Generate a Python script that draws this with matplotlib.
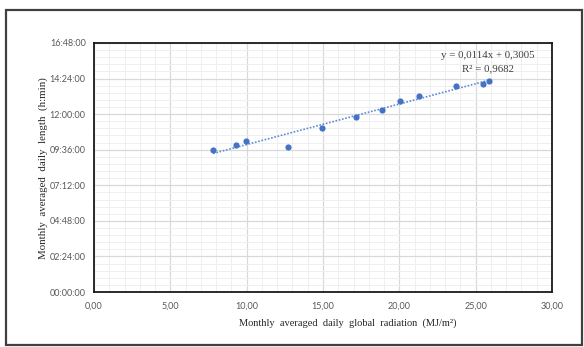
import matplotlib
matplotlib.use("Agg")
import matplotlib.pyplot as plt
from matplotlib.ticker import MultipleLocator, FuncFormatter
from matplotlib.patches import Rectangle
import numpy as np

# Data
radiation = [7.80, 9.30, 9.96, 12.69, 14.96, 17.19, 18.86, 20.04, 21.31, 23.71, 25.48, 25.90]
day_length = ["09:35", "09:54", "10:10", "09:48", "11:05", "11:50",
              "12:17", "12:55", "13:13", "13:53", "14:02", "14:15"]
trend_slope = 0.0114
trend_intercept = 0.3005
r_squared = "0,9682"
eq_text = "y = 0,0114x + 0,3005"

def to_day_fraction(s):
    h, m = s.split(":")
    return (int(h) + int(m) / 60.0) / 24.0

y_vals = np.array([to_day_fraction(s) for s in day_length])
x_vals = np.array(radiation)

fig = plt.figure(figsize=(5.84, 3.47), dpi=100)
ax = fig.add_axes([94/584, (347-292)/347, (552-94)/584, (292-43)/347])

ax.set_xlim(0, 30)
ax.set_ylim(0, 0.7)
ax.xaxis.set_major_locator(MultipleLocator(5))
ax.xaxis.set_minor_locator(MultipleLocator(1))
ax.yaxis.set_major_locator(MultipleLocator(0.1))
ax.yaxis.set_minor_locator(MultipleLocator(0.02))

def fmt_time(v, pos):
    total = int(round(v * 24 * 3600))
    h = total // 3600
    m = (total % 3600) // 60
    s = total % 60
    return f"{h:02d}:{m:02d}:{s:02d}"

def fmt_x(v, pos):
    return f"{v:.2f}".replace(".", ",")

ax.yaxis.set_major_formatter(FuncFormatter(fmt_time))
ax.xaxis.set_major_formatter(FuncFormatter(fmt_x))

ax.grid(which="major", color="#d9d9d9", lw=0.9, zorder=0)
ax.grid(which="minor", color="#efefef", lw=0.7, zorder=0)
ax.set_axisbelow(True)
ax.tick_params(which="both", length=0)
ax.tick_params(axis="y", pad=6, labelsize=6.5, labelcolor="#595959")
ax.tick_params(axis="x", pad=7, labelsize=6.5, labelcolor="#595959")
for lab in ax.get_xticklabels() + ax.get_yticklabels():
    lab.set_fontfamily("Lato")

for sp in ax.spines.values():
    sp.set_color("#1a1a1a")
    sp.set_linewidth(1.3)

# trendline
xt = np.array([x_vals.min(), x_vals.max()])
ax.plot(xt, trend_slope * xt + trend_intercept, color="#5b8bd6", lw=1.2,
        linestyle=(0, (1, 1)), zorder=2)
ax.scatter(x_vals, y_vals, s=20, color="#4472C4", zorder=3, linewidths=0)

ax.text(0.86, 0.948, eq_text, transform=ax.transAxes, ha="center", va="center",
        fontsize=7.8, family="Liberation Serif", color="#404040")
ax.text(0.86, 0.898, "R² = " + r_squared, transform=ax.transAxes, ha="center", va="center",
        fontsize=7.8, family="Liberation Serif", color="#404040")

fig.text(348/584, (347-322.7)/347, "Monthly  averaged  daily  global  radiation  (MJ/m²)",
         ha="center", va="center", fontsize=7.5, family="Liberation Serif", color="#262626")
fig.text(42.8/584, (347-168)/347, "Monthly  averaged  daily  length  (h:min)",
         ha="center", va="center", rotation=90, fontsize=7.8, family="Liberation Serif",
         color="#262626")

fig.patches.append(Rectangle((6/584, 2/347), (582-6)/584, (345-10)/347,
                             transform=fig.transFigure, fill=False,
                             edgecolor="#404040", lw=1.6))

fig.savefig("out.png", dpi=100)
